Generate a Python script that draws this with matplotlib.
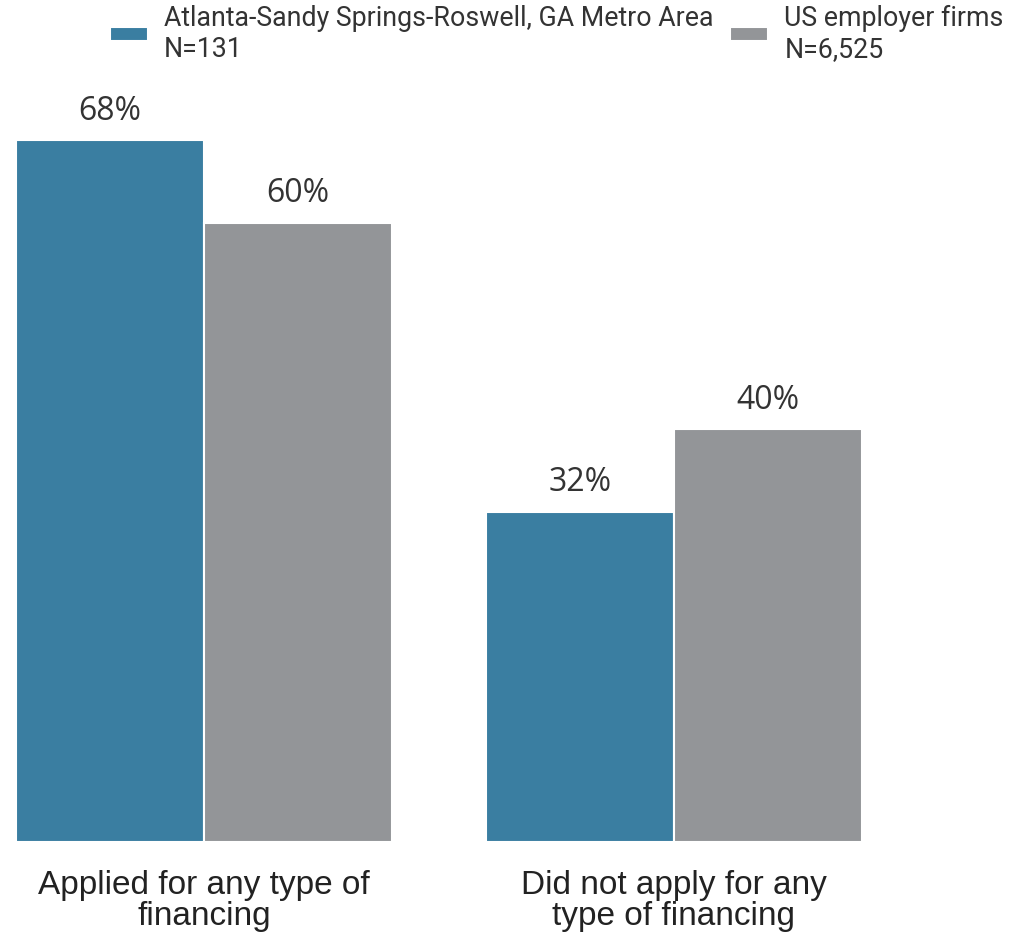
import matplotlib
matplotlib.use("Agg")
import matplotlib.pyplot as plt
import numpy as np

# Data
categories = ["Applied for any type of\nfinancing", "Did not apply for any\ntype of financing"]
series_names = ["Atlanta-Sandy Springs-Roswell, GA Metro Area\nN=131", "US employer firms\nN=6,525"]
atlanta = [68, 32]
us_firms = [60, 40]
colors = ["#3a7ea1", "#939598"]

fig = plt.figure(figsize=(10.11, 9.37), dpi=100)
ax = fig.add_axes([0, 1 - 843 / 937, 1, 825.6 / 937])

x = np.arange(len(categories))
w = 0.4
b1 = ax.bar(x - w / 2, atlanta, w, color=colors[0], edgecolor="white", linewidth=1.5, label=series_names[0])
b2 = ax.bar(x + w / 2, us_firms, w, color=colors[1], edgecolor="white", linewidth=1.5, label=series_names[1])

for bars, vals in [(b1, atlanta), (b2, us_firms)]:
    for rect, v in zip(bars, vals):
        ax.text(rect.get_x() + rect.get_width() / 2, v + 2.1, f"{v}%",
                ha="center", va="baseline", fontsize=23, family="Open Sans", color="#333333")

for xi, cat in zip(x, categories):
    ax.text(xi, -2.6, cat, ha="center", va="top", fontsize=24, family="Liberation Sans",
            color="#222222", linespacing=1.0)

ax.set_xlim(-0.434, -0.434 + 1011 / 470)
ax.set_ylim(0, 80)
ax.axis("off")

leg = fig.legend(handles=[b1, b2], labels=series_names, loc="upper left",
                 bbox_to_anchor=(110 / 1011, 1 - 5 / 937), ncol=2, frameon=False,
                 prop={"family": "Roboto", "size": 19.3}, handlelength=1.4, handleheight=0.4,
                 handletextpad=0.62, columnspacing=0.62, borderpad=0, borderaxespad=0, labelspacing=0)
for t in leg.get_texts():
    t.set_color("#333333")

fig.savefig("out.png", dpi=100)
